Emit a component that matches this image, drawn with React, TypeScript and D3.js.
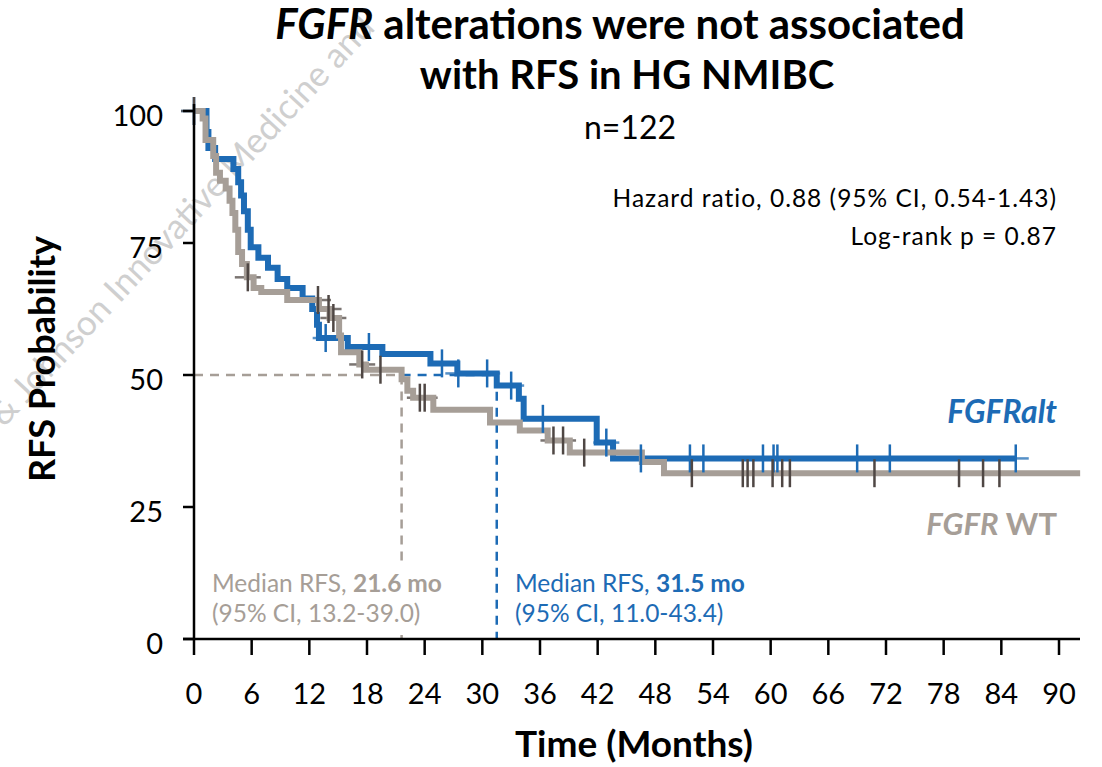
import React from 'react';
import * as d3 from 'd3';

// axis ticks
const xTicks = [0, 6, 12, 18, 24, 30, 36, 42, 48, 54, 60, 66, 72, 78, 84, 90];
const yTicks = [0, 25, 50, 75, 100];

// Kaplan-Meier steps: [months, RFS %]
const altSteps: [number, number][] = [
  [0, 100], [1.3, 96], [1.5, 93], [2.2, 90.9], [4.1, 89], [4.6, 86.5], [4.9, 84],
  [5.2, 81], [5.6, 77.5], [5.9, 74.2], [6.7, 72.2], [7.7, 70.3], [8.7, 68.2],
  [9.7, 66.5], [11.3, 64.5], [12.3, 62.5], [12.8, 59.5], [13.0, 57], [16.0, 55.3],
  [19.6, 54], [24.6, 52.2], [27.4, 50.3], [31.5, 48], [33.8, 45.5], [34.3, 41.7],
  [41.9, 37.2], [43.6, 34.2], [85.6, 34.2],
];
const altCensor = [0, 13.7, 18.2, 25.8, 27.5, 30.5, 33.0, 36.3, 42.9, 46.5, 51.6, 53.0,
  59.2, 60.3, 60.7, 69.0, 72.4, 85.5];

const wtSteps: [number, number][] = [
  [0, 100], [0.9, 98.6], [1.2, 94.5], [2.0, 91.5], [2.3, 88.3], [2.7, 86.8], [3.3, 85.3],
  [3.7, 83], [4.0, 80.7], [4.3, 77.5], [4.6, 73.3], [5.0, 71], [5.5, 68.5], [6.2, 66.5],
  [7.0, 65.7], [9.7, 64.2], [13.0, 62.5], [14.1, 60.8], [15.1, 57.5], [15.3, 54.3],
  [17.2, 52], [17.9, 51], [21.6, 49.2], [22.2, 47], [22.8, 45.7], [24.9, 43.4],
  [30.8, 41], [33.9, 39.5], [36.8, 37.6], [39.1, 35.3], [46.6, 33.5], [48.9, 31.4],
  [92.2, 31.4],
];
const wtCensor = [0, 5.6, 12.9, 14.0, 14.5, 17.5, 19.4, 23.5, 24.0, 37.4, 38.4, 40.6,
  51.8, 57.1, 57.6, 58.2, 60.2, 61.2, 62.0, 70.8, 79.6, 82.1, 83.8];

const medians = { wt: 21.6, alt: 31.5 };

const BLUE = '#1d6bb5';
const GRAY = '#a69e97';
const DARK = '#4f4744';
const FONT = 'Lato, "Open Sans", sans-serif';

const x = d3.scaleLinear().domain([0, 90]).range([194, 1059]);
const y = d3.scaleLinear().domain([0, 100]).range([639, 111]);

const line = d3
  .line<[number, number]>()
  .x(d => x(d[0]))
  .y(d => y(d[1]))
  .curve(d3.curveStepAfter);

const levelAt = (steps: [number, number][], t: number) => {
  let s = steps[0][1];
  steps.forEach(d => {
    if (d[0] <= t) s = d[1];
  });
  return s;
};

const Censors = ({ steps, times, color, part }) => (
  <g stroke={color} strokeWidth={2.5}>
    {times.map((t, i) => {
      const cx = x(t);
      const cy = y(levelAt(steps, t));
      return part === 'h' ? (
        <line key={i} x1={cx - 13} x2={cx + 13} y1={cy} y2={cy} opacity={0.75} />
      ) : (
        <line key={i} x1={cx} x2={cx} y1={cy - 14} y2={cy + 14} />
      );
    })}
  </g>
);

export default function App() {
  return (
    <svg
      width={1102}
      height={767}
      style={{ position: 'absolute', left: 0, top: 0, background: '#fff' }}
      fontFamily={FONT}
    >
      {/* watermark */}
      <text
        transform="translate(4,428) rotate(-47)"
        fontSize={35}
        fill="#cfcfcf"
      >
        &amp; Johnson Innovative Medicine and
      </text>

      {/* title */}
      <text x={620} y={39} textAnchor="middle" fontSize={42} fontWeight="bold">
        <tspan fontStyle="italic">FGFR</tspan> alterations were not associated
      </text>
      <text x={627} y={89} textAnchor="middle" fontSize={40} fontWeight="bold">
        with RFS in HG NMIBC
      </text>
      <text x={630} y={139} textAnchor="middle" fontSize={32}>n=122</text>

      <g fontSize={24.5} letterSpacing={1} textAnchor="end">
        <text x={1057} y={207}>Hazard ratio, 0.88 (95% CI, 0.54-1.43)</text>
        <text x={1057} y={245}>Log-rank p = 0.87</text>
      </g>

      {/* median guides */}
      <g strokeWidth={2.5} strokeDasharray="9,7" fill="none">
        <path d={`M${x(0)},${y(50)}H${x(medians.wt)}V${y(0)}`} stroke={GRAY} />
        <path d={`M${x(medians.wt)},${y(50)}H${x(medians.alt)}V${y(0)}`} stroke={BLUE} />
      </g>

      {/* censor horizontals under the curves */}
      <Censors steps={altSteps} times={altCensor} color={BLUE} part="h" />
      <Censors steps={wtSteps} times={wtCensor} color={DARK} part="h" />

      <path d={line(altSteps)} fill="none" stroke={BLUE} strokeWidth={6} />
      <path d={line(wtSteps)} fill="none" stroke={GRAY} strokeWidth={6} />

      <Censors steps={altSteps} times={altCensor} color={BLUE} part="v" />
      <Censors steps={wtSteps} times={wtCensor} color={DARK} part="v" />

      {/* median annotations (gray box hides the dashed guide) */}
      <rect x={206} y={567} width={240} height={68} fill="#fff" />
      <g fontSize={24.5}>
        <text x={212} y={592} fill={GRAY}>
          Median RFS, <tspan fontWeight="bold">21.6 mo</tspan>
        </text>
        <text x={212} y={622} fill={GRAY}>(95% CI, 13.2-39.0)</text>
        <text x={515} y={592} fill={BLUE}>
          Median RFS, <tspan fontWeight="bold">31.5 mo</tspan>
        </text>
        <text x={515} y={622} fill={BLUE}>(95% CI, 11.0-43.4)</text>
      </g>

      {/* axes */}
      <g stroke="#000" strokeWidth={2.5}>
        <line x1={183} x2={1080} y1={y(0)} y2={y(0)} />
        <line x1={x(0)} x2={x(0)} y1={104} y2={y(0)} />
        {xTicks.map(t => (
          <line key={t} x1={x(t)} x2={x(t)} y1={y(0)} y2={y(0) + 16} />
        ))}
        {yTicks.map(t => (
          <line key={t} x1={183} x2={x(0)} y1={y(t)} y2={y(t)} />
        ))}
      </g>
      <g fontSize={29}>
        {xTicks.map(t => (
          <text key={t} x={x(t)} y={704} textAnchor="middle">{t}</text>
        ))}
        {yTicks.map(t => (
          <text key={t} x={163} y={y(t) + 15} textAnchor="end">{t}</text>
        ))}
      </g>
      <text x={634} y={757} textAnchor="middle" fontSize={37} fontWeight="bold">
        Time (Months)
      </text>
      <text
        transform="translate(55,359) rotate(-90)"
        textAnchor="middle"
        fontSize={36}
        fontWeight="bold"
      >
        RFS Probability
      </text>

      {/* group labels */}
      <text x={1057} y={423} textAnchor="end" fontSize={32} fontWeight="bold"
        fontStyle="italic" fill={BLUE}>
        FGFRalt
      </text>
      <text x={1057} y={535} textAnchor="end" fontSize={31} fontWeight="bold" fill={GRAY}>
        <tspan fontStyle="italic">FGFR</tspan> WT
      </text>
    </svg>
  );
}
